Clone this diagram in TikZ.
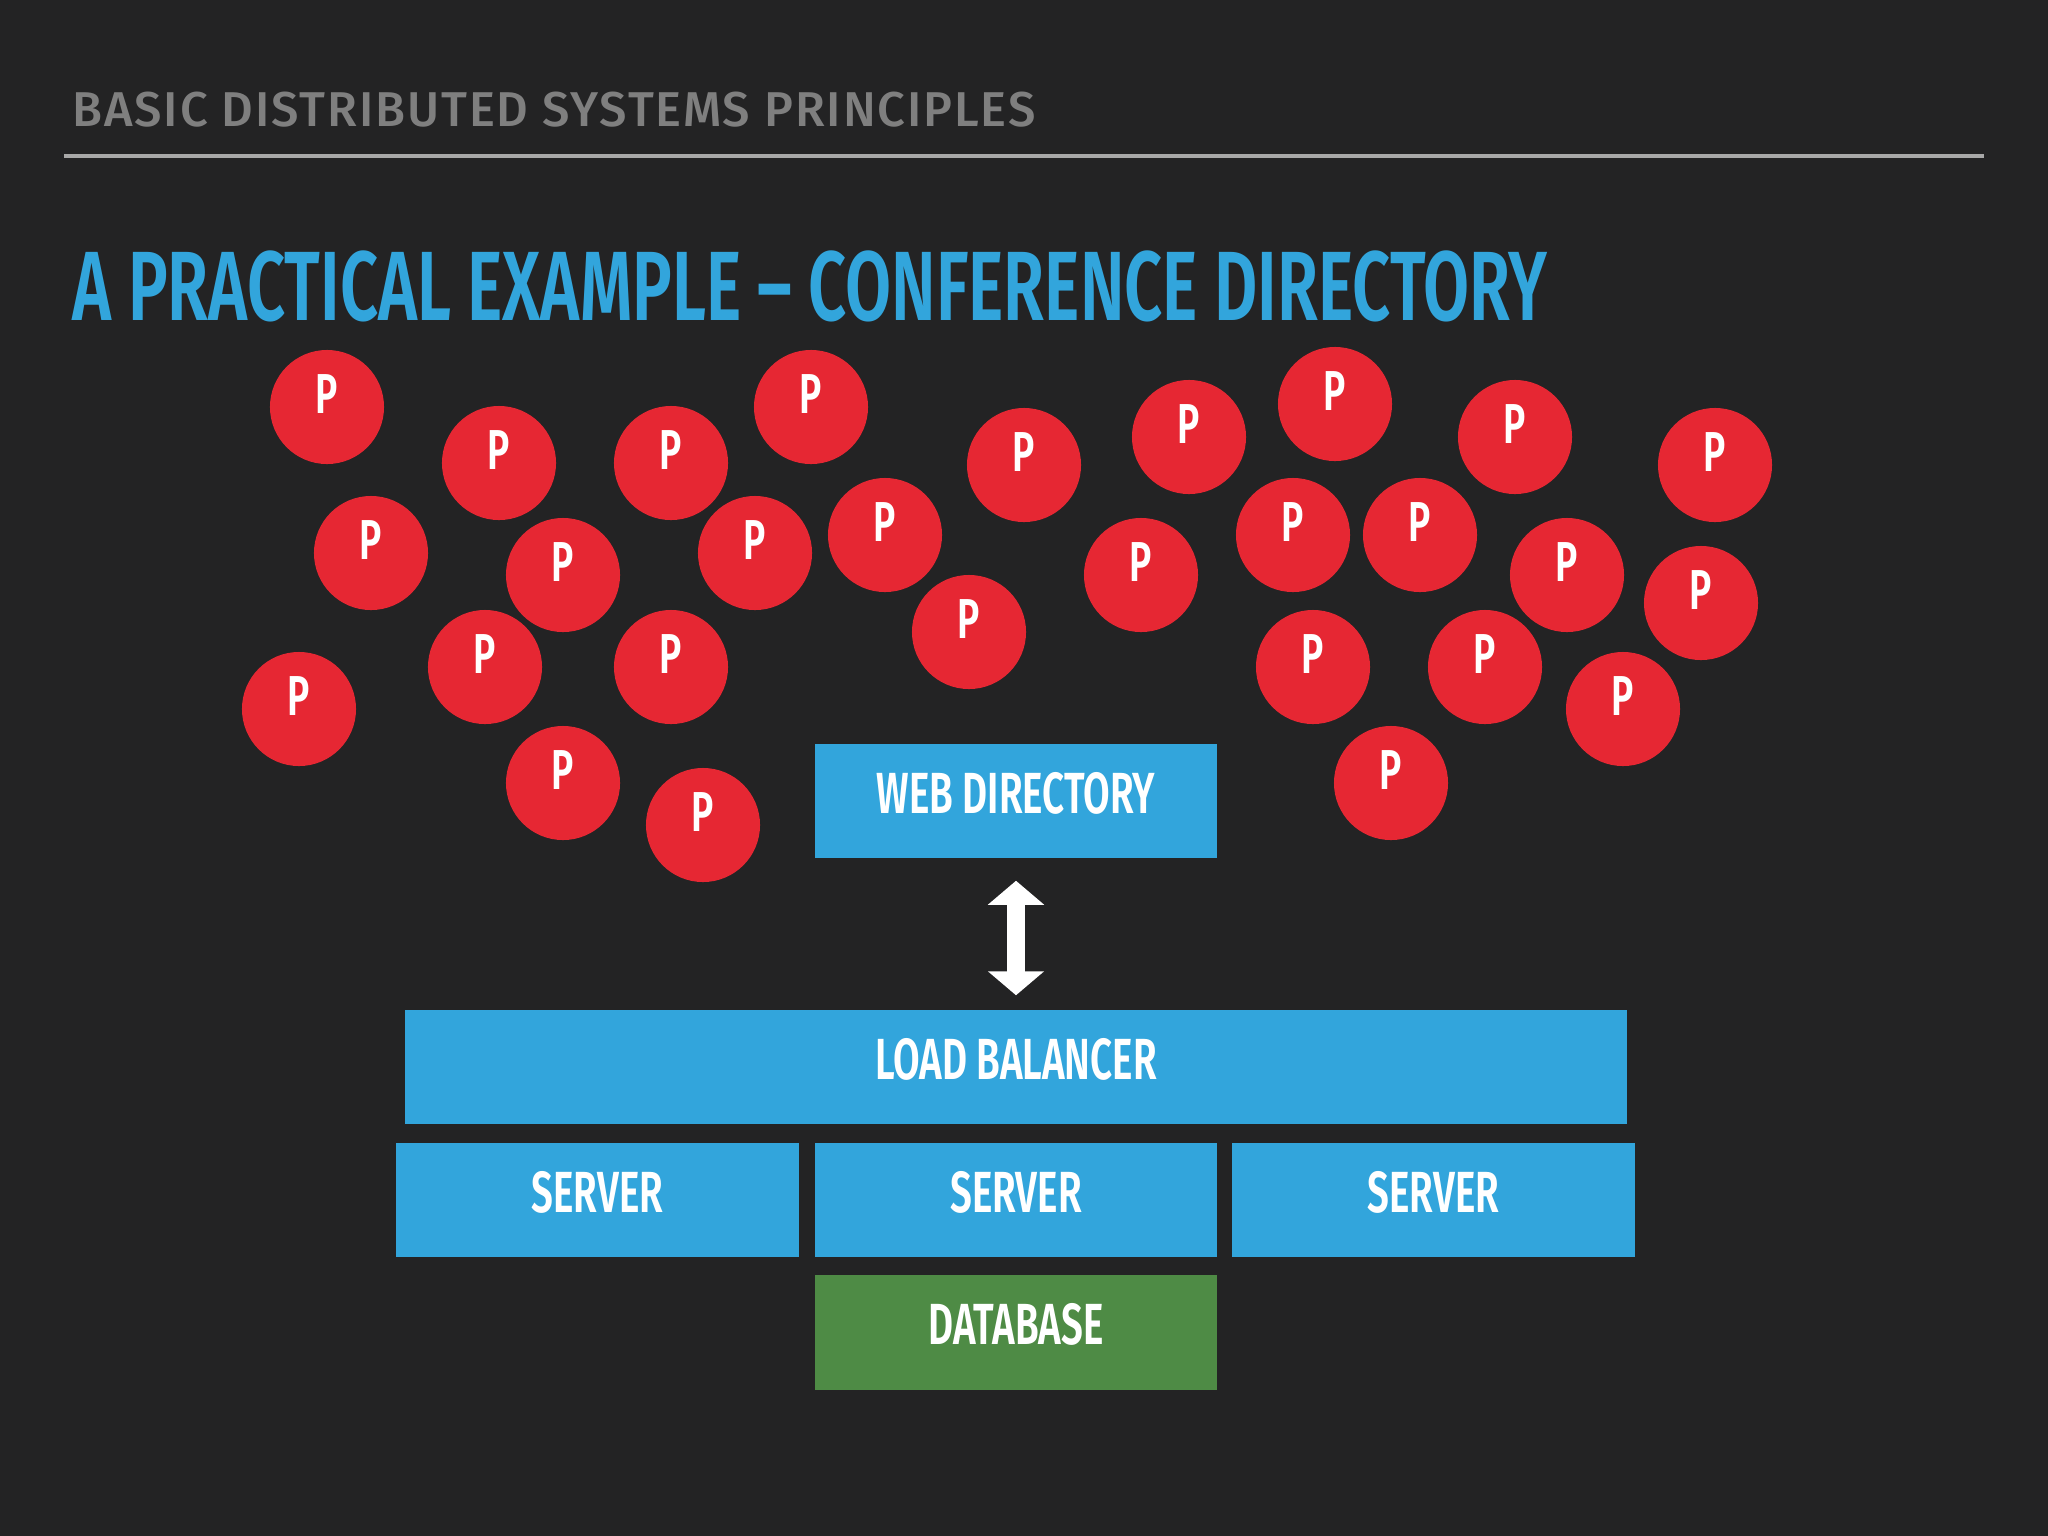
\documentclass[tikz,border=0pt]{standalone}
\usepackage{fontspec}
\usepackage{xcolor}
\usetikzlibrary{arrows.meta}
\setmainfont{Fira Sans}
\newfontfamily\dinfont[FakeStretch=0.665]{Fira Sans SemiBold}
\newfontfamily\titlefont[FakeStretch=0.678]{Fira Sans SemiBold}
\newfontfamily\headfont[LetterSpace=3.8]{Fira Sans Medium}
\definecolor{slidebg}{HTML}{232324}
\definecolor{boxblue}{HTML}{32A5DC}
\definecolor{dotred}{HTML}{E62733}
\definecolor{dbgreen}{HTML}{4E8B45}
\definecolor{headgray}{HTML}{7F7F7F}
\definecolor{rulegray}{HTML}{A8A8A8}
\tikzset{
	tier/.style={rectangle,fill=boxblue,text=white,inner sep=0,minimum width=4.02cm,minimum height=1.14cm,
		text height=0.4cm,text depth=0.16cm,font=\dinfont\fontsize{16.5}{18}\selectfont},
	person/.style={circle,fill=dotred,text=white,inner sep=0,minimum size=1.14cm,
		text height=0.39cm,text depth=0.26cm,font=\dinfont\fontsize{16}{18}\selectfont},
	bigarrow/.style={draw=white,line width=0.176cm,{Triangle[length=0.24cm,width=0.55cm,fill=white]}-{Triangle[length=0.24cm,width=0.55cm,fill=white]}}
}
\begin{document}
\begin{tikzpicture}[x=0.01cm,y=-0.01cm]
		\fill[slidebg] (0,0) rectangle (2048,1536);
		\useasboundingbox (0,0) rectangle (2048,1536);
		
		\node (head) [anchor=base west,inner sep=0,text=headgray,font=\headfont\fontsize{13.9}{16}\selectfont] at (72,126) {BASIC DISTRIBUTED SYSTEMS PRINCIPLES};
		\coordinate (ruleL) at (64,156);
		\coordinate (ruleR) at (1984,156);
		\draw[rulegray,line width=0.04cm] (ruleL) -- (ruleR);
		\node (title) [anchor=base west,inner sep=0,text=boxblue,font=\titlefont\fontsize{28}{32}\selectfont] at (72,320) {A PRACTICAL EXAMPLE – CONFERENCE DIRECTORY};
		
		\foreach \x/\y [count=\i] in {327/407,499/463,671/463,811/407,1024/465,1189/437,1335/404,1515/437,1715/465,
			371/553,563/575,755/553,885/535,969/632,1141/575,1293/535,1420/535,1567/575,1701/603,
			485/667,671/667,299/709,563/783,703/825,1313/667,1485/667,1623/709,1391/783}
			\node (p\i) [person] at (\x,\y) {P};
		
		\node (web) [tier] at (1016,801) {WEB DIRECTORY};
		\node (lb) [tier,minimum width=12.21cm,minimum height=1.14cm] at (1016,1067) {LOAD BALANCER};
		\node (s1) [tier] at (597.5,1200) {SERVER};
		\node (s2) [tier] at (1016,1200) {SERVER};
		\node (s3) [tier] at (1433.5,1200) {SERVER};
		\node (db) [tier,fill=dbgreen] at (1016,1332.5) {DATABASE};
		
		\draw[bigarrow,shorten <=0.22cm,shorten >=0.14cm] (web.south) -- (lb.north);
		\end{tikzpicture}
\end{document}
